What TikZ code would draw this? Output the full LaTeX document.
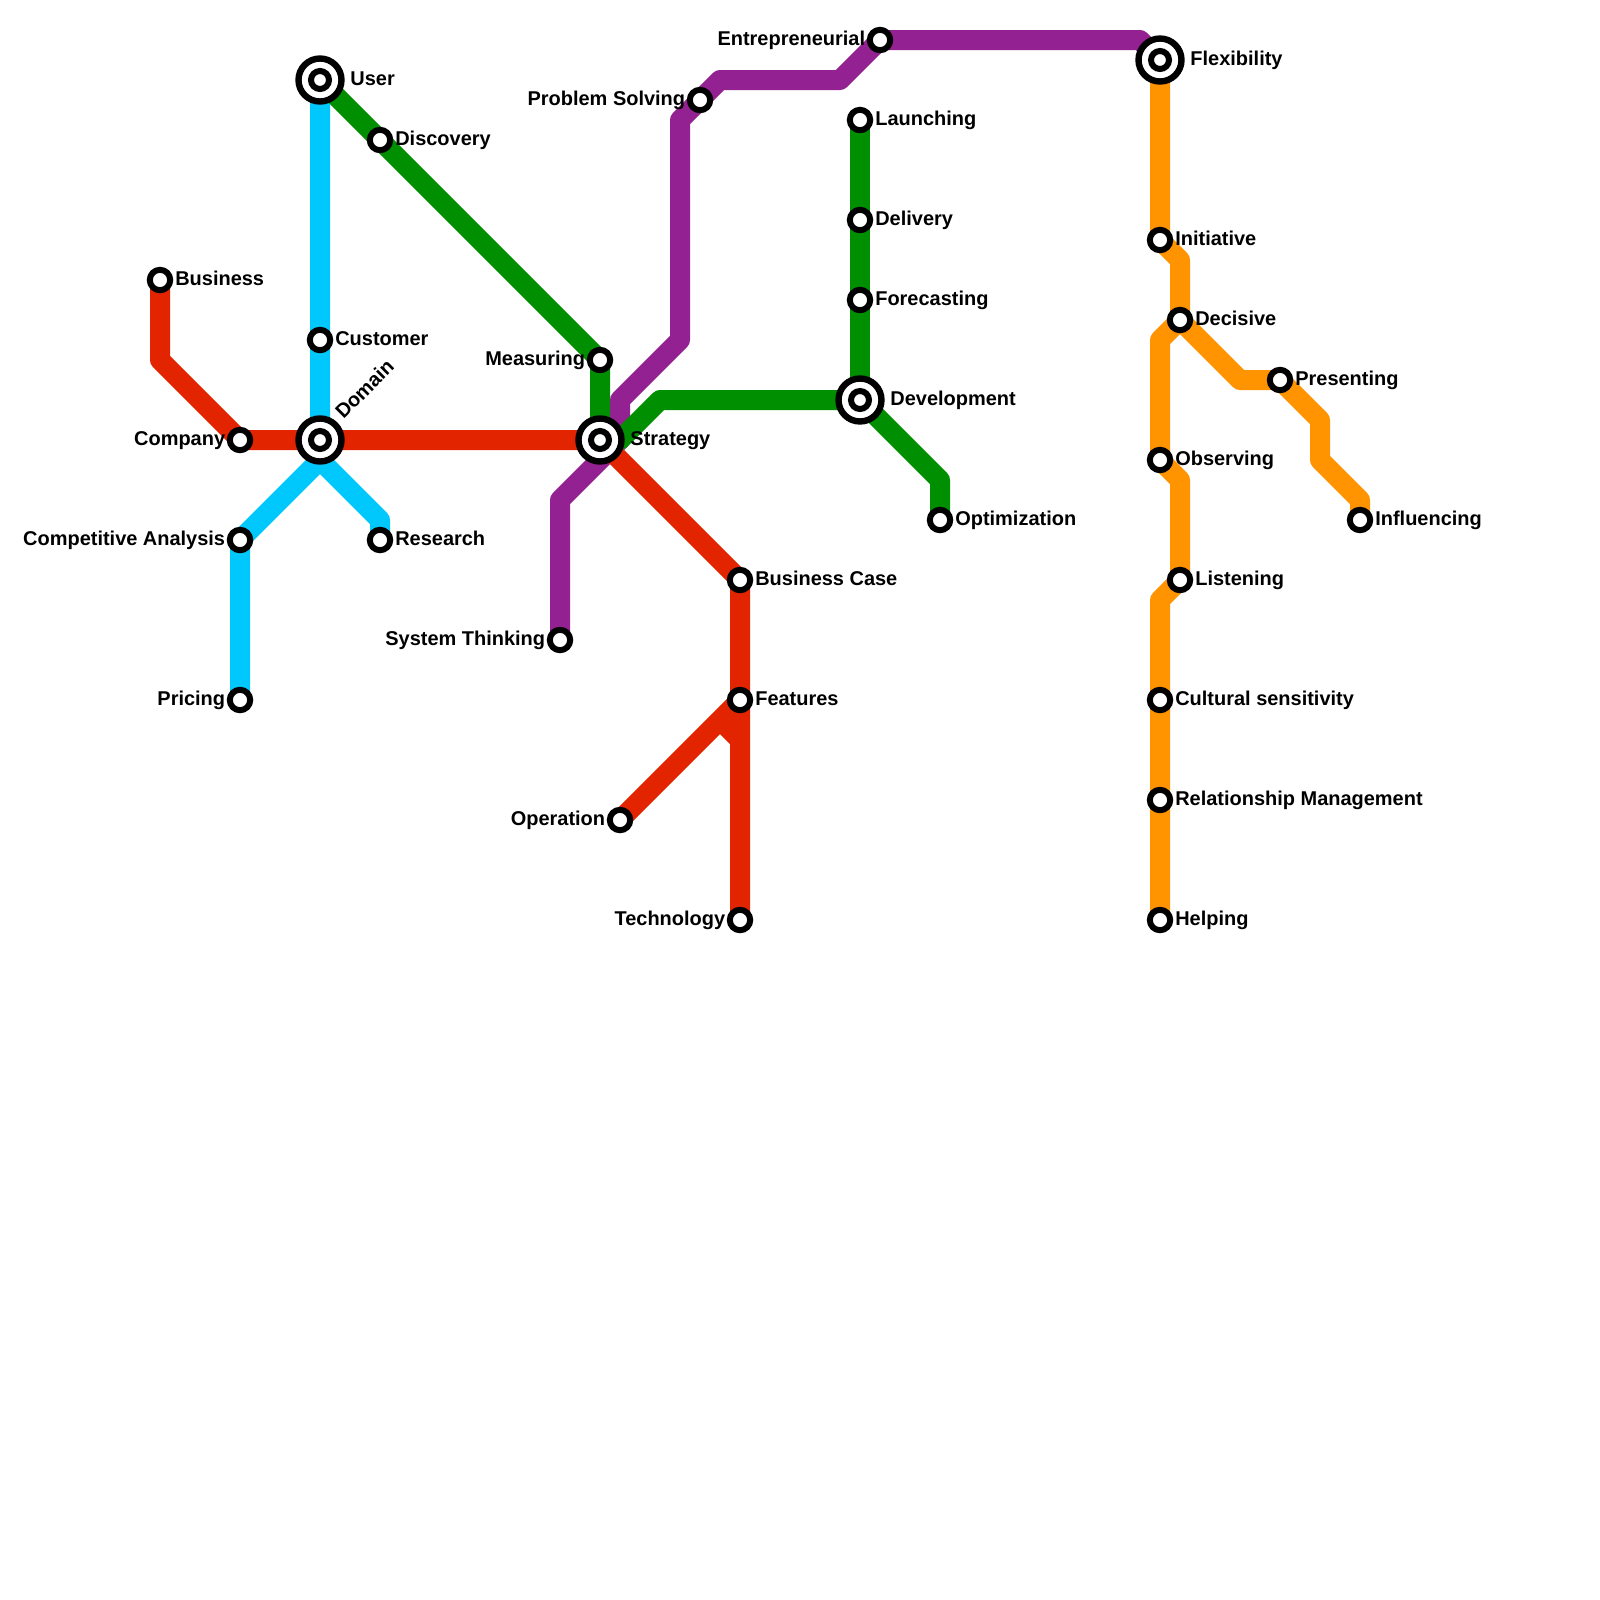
\documentclass[tikz,border=0pt]{standalone}
\usepackage{fontspec}
\setmainfont{Liberation Sans}
\usetikzlibrary{backgrounds}
\definecolor{linered}{HTML}{E32400}
\definecolor{lineblue}{HTML}{00C7FC}
\definecolor{linegreen}{HTML}{008F00}
\definecolor{linepurple}{HTML}{942192}
\definecolor{lineorange}{HTML}{FF9300}
\begin{document}
\begin{tikzpicture}[x=0.5cm, y=-0.5cm,
		line/.style={line width=0.5cm, line join=round},
		lab/.style={font=\fontsize{14.2pt}{16pt}\selectfont\bfseries, inner sep=0pt, text height=10.4pt, text depth=3pt},
		rlab/.style={lab, xshift=1.3pt},
		llab/.style={lab, xshift=-1pt},
		hlab/.style={lab, xshift=3.9pt},
		stn/.style={circle, draw=black, fill=white, line width=0.15cm, inner sep=0pt, minimum size=0.51cm},
		hub/.style={circle, draw=black, fill=white, line width=0.16cm, inner sep=0pt, minimum size=1.075cm,
			path picture={\draw[line width=0.15cm] (path picture bounding box.center) circle (0.225cm);}}]
		\useasboundingbox (0,0) rectangle (80,80);
		% stations
		\node[stn, label={[rlab]right:Business}] (business) at (8,14) {};
		\node[stn, label={[llab]left:Company}] (company) at (12,22) {};
		\node[hub, label={[lab, rotate=45, anchor=west, xshift=4.2pt, yshift=2pt]45:Domain}] (domain) at (16,22) {};
		\node[hub, label={[hlab]right:User}] (user) at (16,4) {};
		\node[stn, label={[rlab]right:Customer}] (customer) at (16,17) {};
		\node[stn, label={[rlab]right:Discovery}] (discovery) at (19,7) {};
		\node[stn, label={[rlab]right:Research}] (research) at (19,27) {};
		\node[stn, label={[llab]left:Competitive Analysis}] (competitive) at (12,27) {};
		\node[stn, label={[llab]left:Pricing}] (pricing) at (12,35) {};
		\node[stn, label={[llab]left:Measuring}] (measuring) at (30,18) {};
		\node[hub, label={[hlab]right:Strategy}] (strategy) at (30,22) {};
		\node[stn, label={[llab]left:System Thinking}] (system) at (28,32) {};
		\node[stn, label={[llab]left:Problem Solving}] (problem) at (35,5) {};
		\node[stn, label={[llab]left:Entrepreneurial}] (entrepreneurial) at (44,2) {};
		\node[hub, label={[hlab]right:Flexibility}] (flexibility) at (58,3) {};
		\node[stn, label={[rlab]right:Launching}] (launching) at (43,6) {};
		\node[stn, label={[rlab]right:Delivery}] (delivery) at (43,11) {};
		\node[stn, label={[rlab]right:Forecasting}] (forecasting) at (43,15) {};
		\node[hub, label={[hlab]right:Development}] (development) at (43,20) {};
		\node[stn, label={[rlab]right:Optimization}] (optimization) at (47,26) {};
		\node[stn, label={[rlab]right:Business Case}] (case) at (37,29) {};
		\node[stn, label={[rlab]right:Features}] (features) at (37,35) {};
		\node[stn, label={[llab]left:Operation}] (operation) at (31,41) {};
		\node[stn, label={[llab]left:Technology}] (technology) at (37,46) {};
		\node[stn, label={[rlab]right:Initiative}] (initiative) at (58,12) {};
		\node[stn, label={[rlab]right:Decisive}] (decisive) at (59,16) {};
		\node[stn, label={[rlab]right:Presenting}] (presenting) at (64,19) {};
		\node[stn, label={[rlab]right:Influencing}] (influencing) at (68,26) {};
		\node[stn, label={[rlab]right:Observing}] (observing) at (58,23) {};
		\node[stn, label={[rlab]right:Listening}] (listening) at (59,29) {};
		\node[stn, label={[rlab]right:Cultural sensitivity}] (cultural) at (58,35) {};
		\node[stn, label={[rlab]right:Relationship Management}] (relationship) at (58,40) {};
		\node[stn, label={[rlab]right:Helping}] (helping) at (58,46) {};
		% bends
		\coordinate (r1) at (8,18);
		\coordinate (r2) at (36,36);
		\coordinate (r3) at (37,37);
		\coordinate (b1) at (16,23);
		\coordinate (b2) at (19,26);
		\coordinate (g1) at (31,22);
		\coordinate (g2) at (33,20);
		\coordinate (g3) at (47,24);
		\coordinate (p1) at (28,25);
		\coordinate (p2) at (31,22);
		\coordinate (p3) at (31,20);
		\coordinate (p4) at (34,17);
		\coordinate (p5) at (34,6);
		\coordinate (p6) at (36,4);
		\coordinate (p7) at (42,4);
		\coordinate (p8) at (57,2);
		\coordinate (o1) at (59,13);
		\coordinate (o2) at (58,17);
		\coordinate (o3) at (59,24);
		\coordinate (o4) at (58,30);
		\coordinate (o5) at (62,19);
		\coordinate (o6) at (66,21);
		\coordinate (o7) at (66,23);
		\coordinate (o8) at (68,25);
		% lines
		\begin{scope}[on background layer]
			\draw[line, lineblue] (user.center) -- (customer.center) -- (domain.center) -- (b1) -- (competitive.center) -- (pricing.center);
			\draw[line, lineblue] (b1) -- (b2) -- (research.center);
			\draw[line, linepurple] (system.center) -- (p1) -- (p2) -- (p3) -- (p4) -- (p5) -- (problem.center) -- (p6) -- (p7) -- (entrepreneurial.center) -- (p8) -- (flexibility.center);
			\draw[line, linegreen] (user.center) -- (discovery.center) -- (measuring.center) -- (strategy.center);
			\draw[line, linegreen] (strategy.center) -- (g1) -- (g2) -- (development.center) -- (g3) -- (optimization.center);
			\draw[line, linegreen] (launching.center) -- (delivery.center) -- (forecasting.center) -- (development.center);
			\draw[line, linered] (business.center) -- (r1) -- (company.center) -- (domain.center) -- (strategy.center) -- (case.center) -- (features.center) -- (technology.center);
			\draw[line, linered] (operation.center) -- (features.center);
			\draw[line, linered] (r2) -- (r3);
			\draw[line, lineorange] (flexibility.center) -- (initiative.center) -- (o1) -- (decisive.center) -- (o2) -- (observing.center) -- (o3) -- (listening.center) -- (o4) -- (cultural.center) -- (relationship.center) -- (helping.center);
			\draw[line, lineorange] (decisive.center) -- (o5) -- (presenting.center) -- (o6) -- (o7) -- (o8) -- (influencing.center);
		\end{scope}
	\end{tikzpicture}
\end{document}
